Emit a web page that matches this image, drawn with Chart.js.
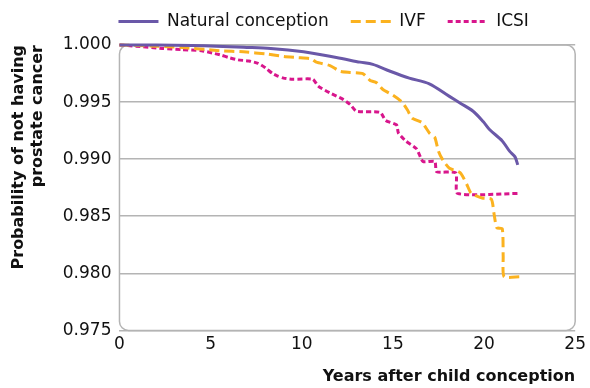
<!DOCTYPE html>
<html>
<head>
<meta charset="utf-8">
<script src="https://cdn.jsdelivr.net/npm/chart.js@4/dist/chart.umd.min.js"></script>
<style>
  html, body { margin: 0; padding: 0; background: #fff; }
  #wrap { width: 590px; height: 388px; }
</style>
</head>
<body>
<div id="wrap"><canvas id="chart"></canvas></div>
<script>
// Kaplan-Meier style curves
var naturalYears = [0, 2, 4, 5.3, 6.8, 8.3, 10.1, 11.9, 13.2, 13.9, 14.85, 15.9, 17.0, 18.1, 18.7, 19.4, 19.95, 20.3, 21.0, 21.4, 21.7, 21.85];
var naturalProb = [1.0, 1.0, 0.99995, 0.9999, 0.9998, 0.9997, 0.9994, 0.9989, 0.9985, 0.9983, 0.9977, 0.9971, 0.9966, 0.9955, 0.9949, 0.9942, 0.9933, 0.9926, 0.9916, 0.9907, 0.9902, 0.9895];

var ivfYears = [0, 2, 3.3, 4, 4.8, 5.5, 6.8, 8.1, 9.0, 9.75, 10.5, 10.8, 11.55, 12.1, 12.65, 13.35, 13.75, 14.1, 14.45, 15.0, 15.5, 15.8, 16.05, 16.6, 17.0, 17.3, 17.5, 17.75, 18.1, 18.7, 19.05, 19.3, 19.9, 20.4, 20.55, 20.7, 21.0, 21.05, 21.1, 21.95];
var ivfProb = [1.0, 0.9999, 0.9998, 0.9997, 0.9996, 0.9995, 0.9994, 0.9992, 0.999, 0.9989, 0.9988, 0.9985, 0.9982, 0.9977, 0.9976, 0.9975, 0.9969, 0.9967, 0.9961, 0.9956, 0.995, 0.9943, 0.9936, 0.9932, 0.9923, 0.9919, 0.9907, 0.9899, 0.9892, 0.9888, 0.9878, 0.987, 0.9866, 0.9865, 0.9852, 0.984, 0.9839, 0.9815, 0.9797, 0.9797];

var icsiYears = [0, 0.9, 2.35, 3.4, 4.5, 5.1, 5.6, 6.0, 6.5, 7.1, 7.6, 8.0, 8.4, 8.65, 9.0, 9.5, 10.6, 10.9, 11.55, 12.2, 12.65, 13.0, 14.3, 14.6, 15.2, 15.3, 15.7, 16.3, 16.65, 17.3, 17.4, 18.45, 18.55, 21.95];
var icsiProb = [1.0, 0.9999, 0.9997, 0.9996, 0.9995, 0.9993, 0.9991, 0.9989, 0.9987, 0.9986, 0.9984, 0.998, 0.9975, 0.9973, 0.9971, 0.997, 0.997, 0.9964, 0.9958, 0.9953, 0.9948, 0.9942, 0.9941, 0.9934, 0.993, 0.9923, 0.9916, 0.9909, 0.9898, 0.9898, 0.9889, 0.9888, 0.987, 0.987];

var seriesNames = ["Natural conception", "IVF", "ICSI"];
var xTicks = [0, 5, 10, 15, 20, 25];
var yTicks = [0.975, 0.98, 0.985, 0.99, 0.995, 1.0];

function toPoints(xs, ys) {
    return xs.map((x, i) => ({x: x, y: ys[i]}));
}

const FONT = "'DejaVu Sans', sans-serif";
const GRID = "#b4b4b4";

// rounded frame around the plot area
const frame = {
    id: "frame",
    beforeDatasetsDraw(chart) {
        const a = chart.chartArea, ctx = chart.ctx;
        ctx.save();
        ctx.strokeStyle = GRID;
        ctx.lineWidth = 1.5;
        ctx.beginPath();
        ctx.roundRect(a.left, a.top, a.right - a.left, a.bottom - a.top, 9);
        ctx.stroke();
        ctx.restore();
    }
};

// move the legend so it starts over the plot area like the original
const legendShift = {
    id: "legendShift",
    afterLayout(chart) {
        const lg = chart.legend;
        const dx = chart.chartArea.left - 23 - lg.left;
        lg.left += dx;
        lg.right += dx;
        lg.top -= 5;
        lg.bottom -= 5;
    }
};

new Chart(document.getElementById("chart"), {
    type: "line",
    data: {
        datasets: [
            {label: seriesNames[0], data: toPoints(naturalYears, naturalProb), borderColor: "#6a58a8", borderWidth: 3, tension: 0.3},
            {label: seriesNames[1], data: toPoints(ivfYears, ivfProb), borderColor: "#fbb21f", borderWidth: 3, borderDash: [10, 5], tension: 0.2},
            {label: seriesNames[2], data: toPoints(icsiYears, icsiProb), borderColor: "#d8168c", borderWidth: 3, borderDash: [5, 3], tension: 0.2}
        ]
    },
    options: {
        responsive: true,
        maintainAspectRatio: false,
        animation: false,
        clip: 6,
        elements: {point: {radius: 0, hoverRadius: 0}},
        layout: {padding: {left: 10, right: 14, top: -4, bottom: 2}},
        plugins: {
            tooltip: {enabled: false},
            legend: {
                position: "top",
                align: "start",
                labels: {
                    font: {family: FONT, size: 17},
                    color: "#111",
                    usePointStyle: true,
                    pointStyle: "line",
                    pointStyleWidth: 40,
                    padding: 22,
                    generateLabels: (chart) => {
                        const items = Chart.defaults.plugins.legend.labels.generateLabels(chart);
                        items.forEach((it) => {
                            const ds = chart.data.datasets[it.datasetIndex];
                            it.lineDash = ds.borderDash || [];
                            it.strokeStyle = ds.borderColor;
                            it.lineWidth = ds.borderWidth;
                        });
                        return items;
                    }
                }
            }
        },
        scales: {
            x: {
                type: "linear",
                min: 0,
                max: 25,
                afterBuildTicks: (axis) => { axis.ticks = xTicks.map(v => ({value: v})); },
                grid: {display: false, drawTicks: false},
                border: {display: false},
                ticks: {font: {family: FONT, size: 17}, color: "#111", padding: 4, maxRotation: 0},
                title: {display: true, text: "Years after child conception", align: "end",
                        font: {family: FONT, size: 16, weight: "bold"}, color: "#111", padding: {top: 8, bottom: 0}}
            },
            y: {
                min: 0.975,
                max: 1.0,
                afterBuildTicks: (axis) => { axis.ticks = yTicks.map(v => ({value: v})); },
                grid: {color: GRID, lineWidth: 1.5, drawTicks: false},
                border: {display: false},
                ticks: {font: {family: FONT, size: 17}, color: "#111", padding: 8,
                        callback: (v) => Number(v).toFixed(3)},
                title: {display: true, text: ["Probability of not having", "prostate cancer"], align: "end",
                        font: {family: FONT, size: 16, weight: "bold", lineHeight: 1.15}, color: "#111", padding: {top: 0, bottom: 8}}
            }
        }
    },
    plugins: [frame, legendShift]
});
</script>
</body>
</html>
